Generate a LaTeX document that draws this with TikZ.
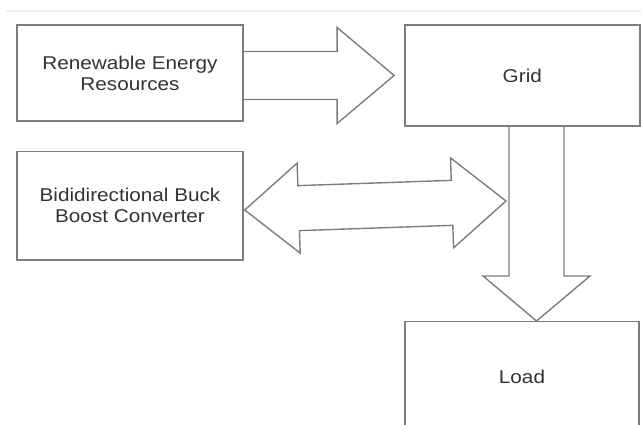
\documentclass[tikz,border=0pt]{standalone}
\usepackage{fontspec}
\setmainfont{Liberation Sans}[FakeStretch=1.12]
\usetikzlibrary{calc}
\definecolor{linegray}{RGB}{125,125,125}
\definecolor{textgray}{RGB}{50,50,50}

\begin{document}
\begin{tikzpicture}[x=1pt,y=-1pt,
  blk/.style={draw=linegray,line width=1.4pt,minimum width=226pt,minimum height=96pt,
    align=center,text=textgray,font=\fontsize{18.5}{21}\selectfont,inner sep=0pt},
  fat/.style={draw=linegray,line width=1.4pt,line join=miter}]
  \clip (0,0) rectangle (641,425);
  \draw[gray!12,line width=2pt] (6,11) -- (641,11);
  % blocks
  \node[blk] (ren) at (130,72.9) {Renewable Energy\\Resources};
  \node[blk,minimum width=235pt,minimum height=101pt] (grid) at (522.3,75.5) {Grid};
  \node[blk,minimum height=108.3pt] (bbc) at (130,205.8) {Bididirectional Buck\\Boost Converter};
  \node[blk,minimum width=234pt,minimum height=110pt] (load) at (522,376.7) {Load};
  % renewable -> grid
  \coordinate (atip) at ($(grid.west)+(-10,0)$);
  \draw[fat] ($(ren.east |- atip)+(0,-24)$) -- ($(atip)+(-57,-24)$) -- ($(atip)+(-57,-48)$)
    -- (atip) -- ($(atip)+(-57,48)$) -- ($(atip)+(-57,24)$) -- ($(ren.east |- atip)+(0,24)$);
  % grid -> load
  \coordinate (dtip) at ($(load.north)+(14.5,0)$);
  \draw[fat] ($(dtip |- grid.south)+(-27.5,0)$) -- ($(dtip)+(-27.5,-45)$) -- ($(dtip)+(-53.5,-45)$)
    -- (dtip) -- ($(dtip)+(53.5,-45)$) -- ($(dtip)+(27.5,-45)$) -- ($(dtip |- grid.south)+(27.5,0)$);
  % converter <-> grid
  \coordinate (ltip) at ($(bbc.east)+(1,4.2)$);
  \coordinate (rtip) at ($(dtip |- bbc.east)+(-30.5,-4.8)$);
  \draw[fat] (ltip) -- ($(ltip)!54pt!(rtip)!45pt!90:(rtip)$) -- ($(ltip)!54pt!(rtip)!22.5pt!90:(rtip)$)
    -- ($(rtip)!54pt!(ltip)!22.5pt!-90:(ltip)$) -- ($(rtip)!54pt!(ltip)!45pt!-90:(ltip)$)
    -- (rtip) -- ($(rtip)!54pt!(ltip)!45pt!90:(ltip)$) -- ($(rtip)!54pt!(ltip)!22.5pt!90:(ltip)$)
    -- ($(ltip)!54pt!(rtip)!22.5pt!-90:(rtip)$) -- ($(ltip)!54pt!(rtip)!45pt!-90:(rtip)$) -- cycle;
\end{tikzpicture}
\end{document}
